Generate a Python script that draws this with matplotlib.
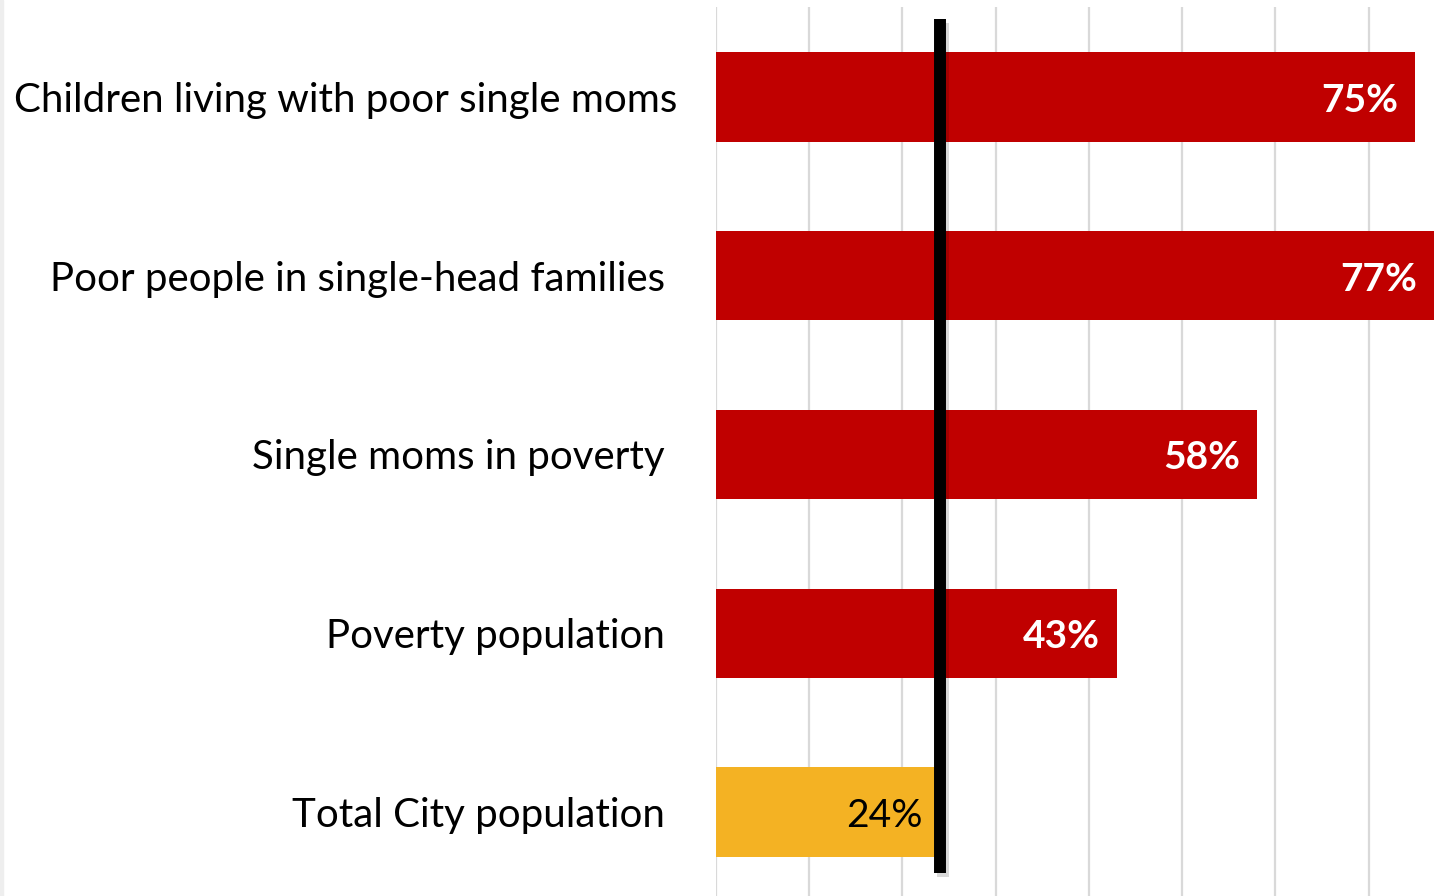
import matplotlib.pyplot as plt
from matplotlib import patheffects as pe
from matplotlib.patches import Rectangle

plt.rcParams['font.family'] = ['Lato', 'DejaVu Sans']

# share of people in each group, percent
categories = ['Children living with poor single moms',
              'Poor people in single-head families',
              'Single moms in poverty',
              'Poverty population',
              'Total City population']
values = [75, 77, 58, 43, 24]
bar_colors = ['#C00000', '#C00000', '#C00000', '#C00000', '#F4B223']
label_colors = ['white', 'white', 'white', 'white', 'black']
label_weights = ['bold', 'bold', 'bold', 'bold', 'normal']
city_rate = 24

# the first label sits a little closer to the bars
label_pads = [39, 51, 51, 51, 51]

W, H = 1443, 896
fig = plt.figure(figsize=(W / 100, H / 100), dpi=100)
fig.patches.append(Rectangle((0, 0), 3 / W, 1, transform=fig.transFigure,
                             color='#EEEEEE', zorder=0))

ax = fig.add_axes([716 / W, 0, 718 / W, 889 / H])
y = list(range(len(categories)))
ax.barh(y, values, height=0.5, color=bar_colors, zorder=2)

ax.set_xlim(0, 77)
ax.set_ylim(4.47, -0.503)
ax.set_xticks(range(0, 80, 10))
ax.set_yticks([])
ax.grid(axis='x', color='#D9D9D9', lw=1.6, zorder=0)
ax.set_axisbelow(True)
ax.tick_params(bottom=False, labelbottom=False)
for s in ax.spines.values():
    s.set_visible(False)

# city-wide reference line
ax.plot([city_rate, city_rate], [-0.436, 4.341], color='black', lw=8.6,
        solid_capstyle='butt', zorder=4,
        path_effects=[pe.SimpleLineShadow(offset=(2, -3), alpha=0.15),
                      pe.Normal()])

for i, (cat, v) in enumerate(zip(categories, values)):
    ax.annotate(cat, xy=(0, i), xycoords=('axes fraction', 'data'),
                xytext=(-label_pads[i], -15), textcoords='offset pixels',
                ha='right', va='baseline', fontsize=29, color='black',
                annotation_clip=False)
    ax.annotate(f'{v}%', xy=(v, i), xytext=(-17, -15),
                textcoords='offset pixels', ha='right', va='baseline',
                fontsize=28, color=label_colors[i],
                fontweight=label_weights[i], zorder=3)

fig.savefig('out.png', dpi=100)
